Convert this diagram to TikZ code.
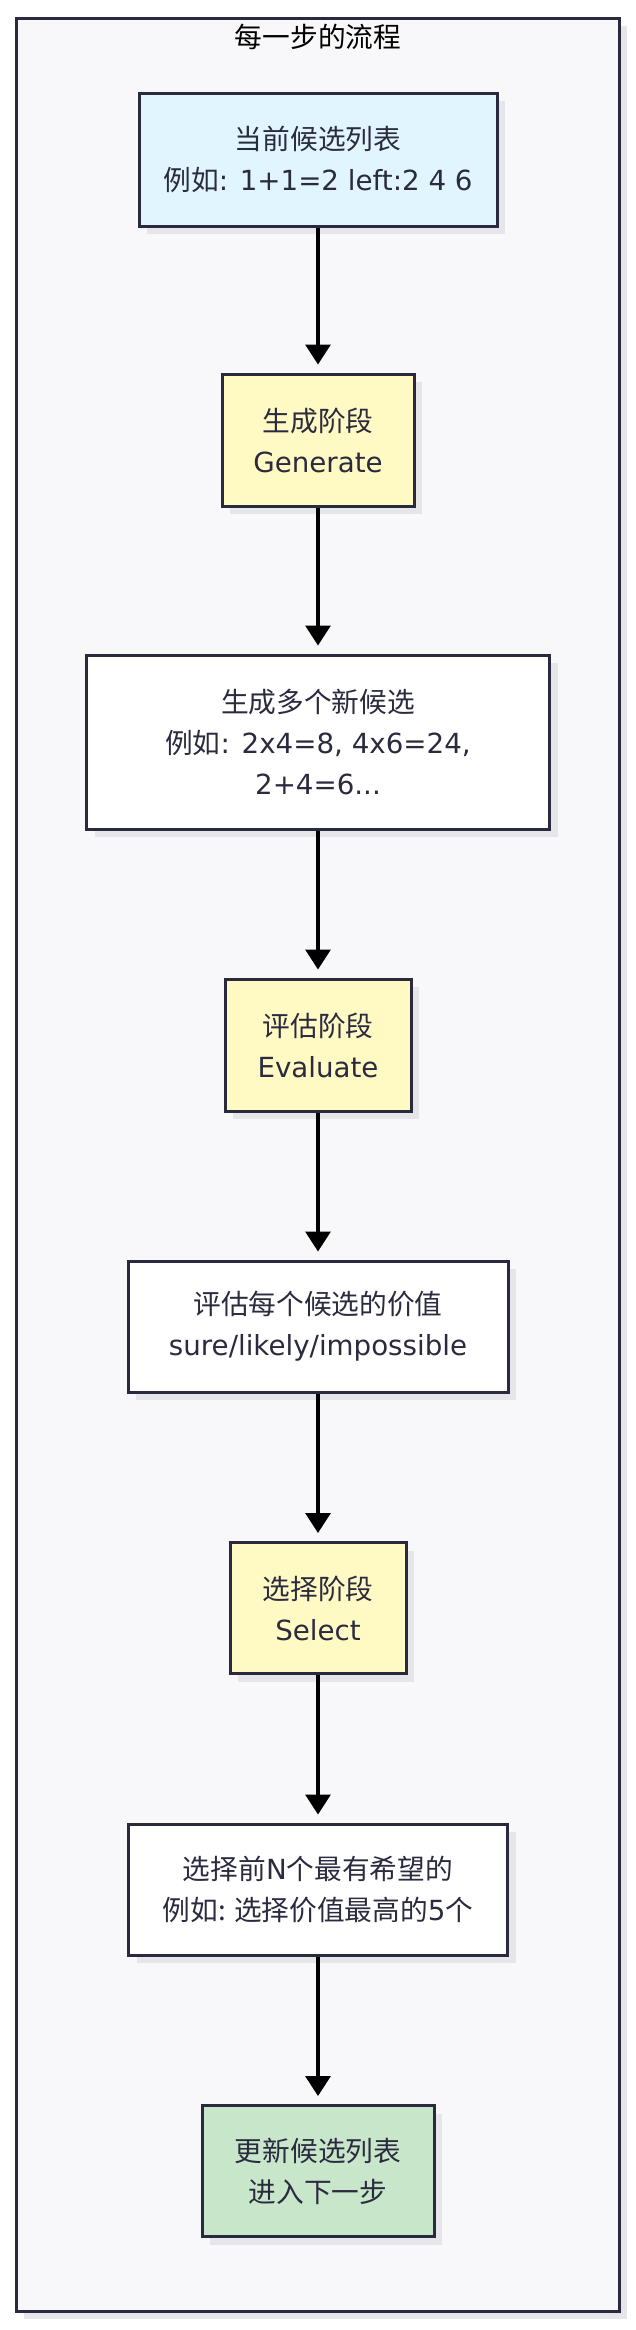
\documentclass[tikz,border=0pt]{standalone}
\usepackage{fontspec}
\setmainfont{DejaVu Sans}
\newfontfamily\cjk{Noto Sans CJK SC}
\usetikzlibrary{arrows.meta,shadows}
\definecolor{ink}{HTML}{2B2B40}
\definecolor{edge}{HTML}{2A2A3E}
\definecolor{bgF}{HTML}{F8F8FA}
\definecolor{shd}{HTML}{E6E6EA}
\definecolor{blu}{HTML}{E1F5FE}
\definecolor{yel}{HTML}{FFF9C4}
\definecolor{grn}{HTML}{C8E6C9}
\tikzset{
  flow/.style={-{Triangle[length=10pt,width=12.5pt]}, line width=1.6pt, black, shorten >=4pt},
  shd/.style={drop shadow={shadow xshift=4pt, shadow yshift=-4pt, fill=shd, opacity=1}},
  stage/.style={draw=edge, line width=1.5pt, shd, text=ink, align=center, inner sep=0pt,
    font=\fontsize{13.85}{20.5}\selectfont, minimum height=66pt},
}
\begin{document}
\begin{tikzpicture}[x=0.5pt,y=-0.5pt]
\useasboundingbox (0,0) rectangle (636,2330);

% ---- container -------------------------------------------------------------
\node[draw=edge, line width=1.5pt, fill=bgF, shd, minimum width=301.5pt, minimum height=1146.5pt,
  inner sep=0pt] (frame) at (317.5,1164.5) {};
\node[font=\fontsize{13.85}{20.5}\selectfont, text=black] (title) at (318,37) {\cjk 每一步的流程};

% ---- steps -----------------------------------------------------------------
\node[stage, fill=blu, minimum width=179pt, minimum height=66.5pt] (cur) at (318,159.5)
  {{\cjk 当前候选列表}\\ {\cjk 例如}: 1+1=2 left:2 4 6};
\node[stage, fill=yel, minimum width=96pt] (gen) at (318,440)
  {{\cjk 生成阶段}\\ Generate};
\node[stage, fill=white, minimum width=231.5pt, minimum height=87pt] (cand) at (318,742)
  {{\cjk 生成多个新候选}\\ {\cjk 例如}: 2x4=8, 4x6=24,\\ 2+4=6...};
\node[stage, fill=yel, minimum width=93pt] (eval) at (318,1045)
  {{\cjk 评估阶段}\\ Evaluate};
\node[stage, fill=white, minimum width=190pt, minimum height=65.5pt] (score) at (318,1326.5)
  {{\cjk 评估每个候选的价值}\\ sure/likely/impossible};
\node[stage, fill=yel, minimum width=88pt, minimum height=65.5pt] (sel) at (318,1608)
  {{\cjk 选择阶段}\\ Select};
\node[stage, fill=white, minimum width=189.5pt, minimum height=65.5pt] (top) at (318,1889.5)
  {{\cjk 选择前}N{\cjk 个最有希望的}\\ {\cjk 例如: 选择价值最高的}5{\cjk 个}};
\node[stage, fill=grn, minimum width=116pt, minimum height=65.5pt] (next) at (318,2171)
  {{\cjk 更新候选列表}\\ {\cjk 进入下一步}};

% ---- flow ------------------------------------------------------------------
\draw[flow] (cur) -- (gen);
\draw[flow] (gen) -- (cand);
\draw[flow] (cand) -- (eval);
\draw[flow] (eval) -- (score);
\draw[flow] (score) -- (sel);
\draw[flow] (sel) -- (top);
\draw[flow] (top) -- (next);

\end{tikzpicture}
\end{document}
